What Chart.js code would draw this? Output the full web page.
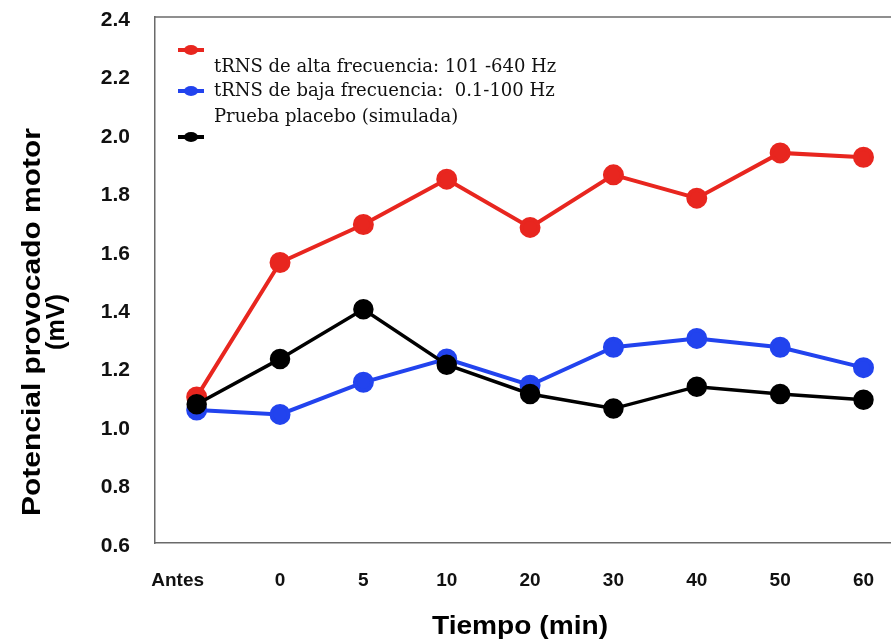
<!DOCTYPE html>
<html>
<head>
<meta charset="utf-8">
<script src="https://cdn.jsdelivr.net/npm/chart.js@4"></script>
<style>
  html, body { margin: 0; padding: 0; background: #ffffff; }
  #wrap { width: 891px; height: 643px; position: relative; }
</style>
</head>
<body>
<div id="wrap"><canvas id="c" width="891" height="643"></canvas></div>
<script>
// ---- data ----
const categories = ['Antes', '0', '5', '10', '20', '30', '40', '50', '60'];
const seriesNames = [
  'tRNS de alta frecuencia: 101 -640 Hz',
  'tRNS de baja frecuencia:  0.1-100 Hz',
  'Prueba placebo (simulada)'
];
const highFreq = [1.10, 1.56, 1.69, 1.845, 1.68, 1.86, 1.78, 1.935, 1.92];
const lowFreq  = [1.055, 1.04, 1.15, 1.23, 1.14, 1.27, 1.30, 1.27, 1.20];
const placebo  = [1.075, 1.23, 1.40, 1.21, 1.11, 1.06, 1.135, 1.11, 1.09];
const yTicks = [0.6, 0.8, 1.0, 1.2, 1.4, 1.6, 1.8, 2.0, 2.2, 2.4];
const xTitle = 'Tiempo (min)';
const yTitle = ['Potencial provocado motor', '(mV)'];

const RED = '#e8261f', BLUE = '#2243ee', BLACK = '#000000';

function pts(arr) { return arr.map((v, i) => ({ x: i, y: v })); }

function stretchedText(ctx, text, cx, cy, targetW, rot) {
  ctx.save();
  ctx.translate(cx, cy);
  if (rot) ctx.rotate(rot);
  const w = ctx.measureText(text).width;
  ctx.scale(targetW / w, 1);
  ctx.fillText(text, 0, 0);
  ctx.restore();
}

const decorPlugin = {
  id: 'customDecor',
  afterDraw(chart) {
    const ctx = chart.ctx;
    const ca = chart.chartArea;
    ctx.save();
    // top border
    ctx.strokeStyle = '#6a6a6a';
    ctx.lineWidth = 1.5;
    ctx.beginPath();
    ctx.moveTo(ca.left, ca.top);
    ctx.lineTo(chart.width, ca.top);
    ctx.stroke();

    // legend markers
    const markers = [
      { c: RED, y: 50 },
      { c: BLUE, y: 91 },
      { c: BLACK, y: 137 }
    ];
    markers.forEach(m => {
      ctx.strokeStyle = m.c;
      ctx.fillStyle = m.c;
      ctx.lineWidth = 4;
      ctx.beginPath();
      ctx.moveTo(178, m.y);
      ctx.lineTo(204, m.y);
      ctx.stroke();
      ctx.beginPath();
      ctx.ellipse(191, m.y, 7, 5, 0, 0, Math.PI * 2);
      ctx.fill();
    });
    // legend texts
    ctx.fillStyle = '#111';
    ctx.font = '18px "DejaVu Serif", "Liberation Serif", serif';
    ctx.textBaseline = 'middle';
    ctx.textAlign = 'left';
    ctx.fillText(seriesNames[0], 214, 67);
    ctx.fillText(seriesNames[1], 214, 91);
    ctx.fillText(seriesNames[2], 214, 117);

    // axis titles
    ctx.fillStyle = '#000';
    ctx.font = 'bold 26px "Liberation Sans", Arial, sans-serif';
    ctx.textAlign = 'center';
    stretchedText(ctx, xTitle, 520, 627, 176, 0);
    stretchedText(ctx, yTitle[0], 33, 322, 388, -Math.PI / 2);
    stretchedText(ctx, yTitle[1], 57, 322, 56, -Math.PI / 2);
    ctx.restore();
  }
};

const ds = (label, data, color, lw, order) => ({
  label, data: pts(data),
  borderColor: color, backgroundColor: color,
  pointBackgroundColor: color, pointBorderColor: color,
  borderWidth: lw, pointRadius: 8.5, pointHoverRadius: 8.5,
  tension: 0, order
});

function zeroPad(s) { s.paddingTop = 0; s.paddingBottom = 0; s.paddingLeft = 0; s.paddingRight = 0; }

new Chart(document.getElementById('c'), {
  type: 'line',
  data: {
    datasets: [
      ds(seriesNames[0], highFreq, RED, 4, 3),
      ds(seriesNames[1], lowFreq, BLUE, 4, 2),
      ds(seriesNames[2], placebo, BLACK, 3.5, 1)
    ]
  },
  options: {
    responsive: false,
    animation: false,
    layout: { autoPadding: false, padding: { top: 17, right: 0, left: 0, bottom: 0 } },
    plugins: { legend: { display: false }, tooltip: { enabled: false } },
    scales: {
      x: {
        type: 'linear',
        min: -0.5, max: 8.33,
        afterFit(s) { s.height = 100; zeroPad(s); },
        afterBuildTicks(s) { s.ticks = categories.map((_, i) => ({ value: i })); },
        grid: { display: false, drawTicks: false },
        border: { display: true, color: '#6a6a6a', width: 1.5 },
        ticks: {
          padding: 26,
          color: '#111',
          font: { family: '"Liberation Sans", Arial, sans-serif', size: 19, weight: 'bold' },
          callback: (v) => v === 0 ? categories[0] + '\u2003\u2003' : (categories[v] !== undefined ? categories[v] : ''),
          maxRotation: 0, autoSkip: false
        }
      },
      y: {
        min: 0.6, max: 2.4,
        afterFit(s) { s.width = 155; zeroPad(s); },
        afterBuildTicks(s) { s.ticks = yTicks.map(v => ({ value: v })); },
        grid: { display: false, drawTicks: false },
        border: { display: true, color: '#6a6a6a', width: 1.5 },
        ticks: {
          padding: 25,
          labelOffset: 3,
          color: '#111',
          font: { family: '"Liberation Sans", Arial, sans-serif', size: 21, weight: 'bold' },
          callback: (v) => v.toFixed(1)
        }
      }
    }
  },
  plugins: [decorPlugin]
});
</script>
</body>
</html>
